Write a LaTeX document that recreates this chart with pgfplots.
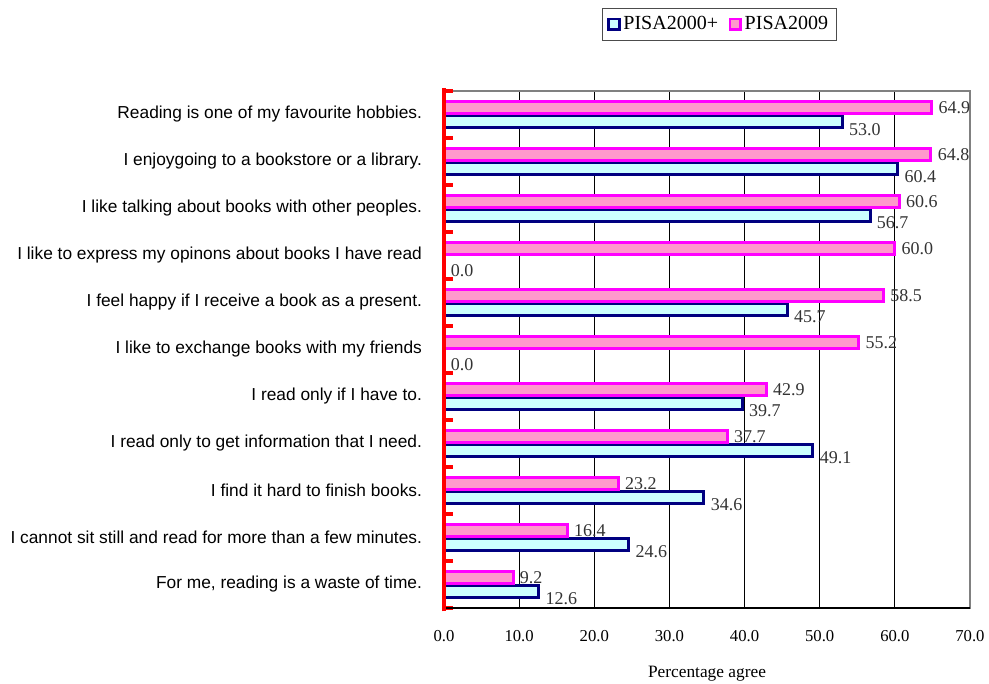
\documentclass[border=0pt]{standalone}
\usepackage{pgfplots}
\pgfplotsset{compat=1.18}
\usepackage{pgfplotstable}
\usepackage{fontspec}
\setmainfont{Liberation Serif}
\newfontfamily\catfont{Liberation Sans}
\definecolor{pinkfill}{HTML}{FF99CC}
\definecolor{magentaedge}{HTML}{FF00FF}
\definecolor{cyanfill}{HTML}{CCFFFF}
\definecolor{navyedge}{HTML}{000080}
\pgfplotstableread{
y c2000 c2009
10 53.0 64.9
9 60.4 64.8
8 56.7 60.6
7 0.0 60.0
6 45.7 58.5
5 0.0 55.2
4 39.7 42.9
3 49.1 37.7
2 34.6 23.2
1 24.6 16.4
0 12.6 9.2
}\datatable
\begin{document}
\begin{tikzpicture}
\useasboundingbox (-333pt,-57pt) rectangle (408.75pt,456pt);
\begin{axis}[
  at={(0,0)}, anchor=south west,
  scale only axis, width=394.5pt, height=387.75pt,
  clip=false,
  xbar, bar width=9pt,
  xmin=0, xmax=70, ymin=-0.5, ymax=10.5,
  xtick={0,10,...,70},
  xmajorgrids, major grid style={black, line width=0.6pt},
  axis line style={black!50, line width=0.8pt},
  major tick length=0pt,
  ytick={0,...,10},
  ytick pos=left, xtick pos=bottom,
  yticklabels={
    {For me, reading is a waste of time.},
    {I cannot sit still and read for more than a few minutes.},
    {I find it hard to finish books.},
    {I read only to get information that I need.},
    {I read only if I have to.},
    {I like to exchange books with my friends},
    {I feel happy if I receive a book as a present.},
    {I like to express my opinons about books I have read},
    {I like talking about books with other peoples.},
    {I enjoygoing to a bookstore or a library.},
    {Reading is one of my favourite hobbies.}},
  yticklabel style={font=\catfont\fontsize{13}{15}\selectfont, xshift=-13pt},
  xticklabel style={font=\fontsize{12.5}{14}\selectfont, yshift=-13pt},
  extra y ticks={-0.5,0.5,...,10.5},
  extra y tick labels={},
  extra y tick style={major tick length=6.5pt, tick align=inside, tick style={red, line width=2.6pt}},
  xlabel={Percentage agree},
  xlabel style={at={(axis description cs:0.5,0)}, anchor=center, yshift=-49pt, font=\fontsize{13}{15}\selectfont},
  legend columns=2,
  legend style={at={(rel axis cs:0.523,1)}, anchor=south, yshift=38pt, draw=black!70, line width=0.6pt,
    font=\fontsize{15}{17}\selectfont, inner xsep=4pt, inner ysep=4pt,
    /tikz/every even column/.append style={column sep=6pt}},
  legend image code/.code={\draw[#1, line width=2pt] (0pt,-4pt) rectangle (8pt,4pt);},
  /pgf/number format/fixed,
  /pgf/number format/fixed zerofill,
  /pgf/number format/precision=1,
  /pgf/number format/assume math mode=true,
]
\addplot[fill=cyanfill, draw=navyedge, line width=2.25pt, bar shift=-5.3pt,
  nodes near coords,
  nodes near coords style={anchor=north west, font=\fontsize{13.5}{15}\selectfont, text=black!80, inner sep=1pt, xshift=3pt, yshift=1pt}]
  table[x=c2000, y=y]{\datatable};
\addlegendentry{PISA2000+}
\addplot[fill=pinkfill, draw=magentaedge, line width=2.25pt, bar shift=5.3pt,
  nodes near coords,
  nodes near coords style={anchor=west, font=\fontsize{13.5}{15}\selectfont, text=black!80, inner sep=1pt, xshift=3pt}]
  table[x=c2009, y=y]{\datatable};
\addlegendentry{PISA2009}
\draw[black, line width=0.8pt] (rel axis cs:0,0) -- (rel axis cs:1,0);
\draw[red, line width=3.3pt] ([yshift=-2.5pt]rel axis cs:0,0) -- ([yshift=2.5pt]rel axis cs:0,1);
\end{axis}
\end{tikzpicture}
\end{document}
